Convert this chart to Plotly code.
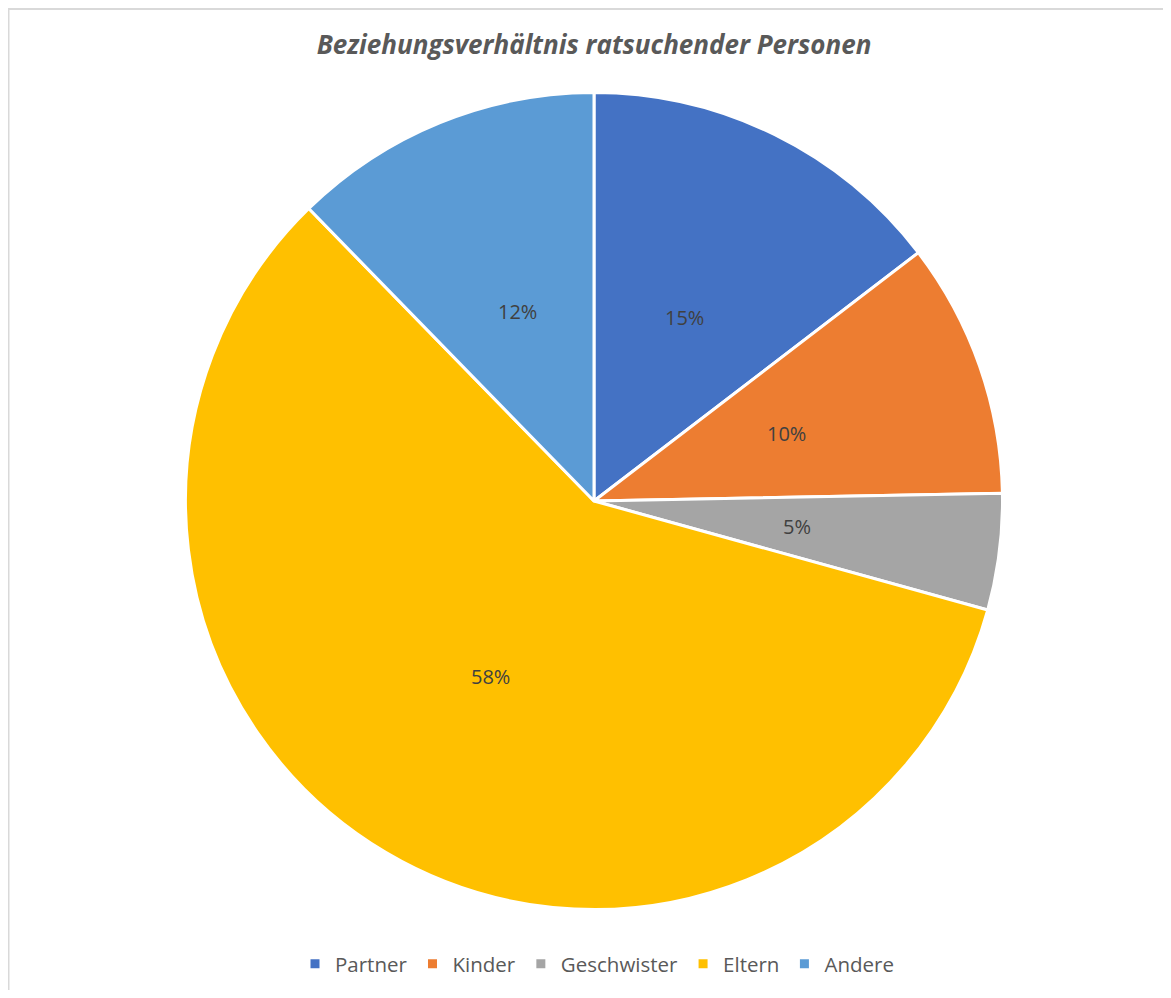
import math
import plotly.graph_objects as go

categories = ['Partner', 'Kinder', 'Geschwister', 'Eltern', 'Andere']
values = [146, 101, 46, 584, 123]
colors = ['#4472C4', '#ED7D31', '#A5A5A5', '#FFC000', '#5B9BD5']

# page body has an 8px margin, so the figure sits at (8, 8)
OFF = 8
W, H = 1171 - 2 * OFF, 998 - 2 * OFF

# pie centre / radius in screen pixels
CX, CY, R = 594 - OFF, 501 - OFF, 408.5

fig = go.Figure(go.Pie(
    labels=categories,
    values=values,
    sort=False,
    direction='clockwise',
    rotation=0,
    marker=dict(colors=colors, line=dict(color='white', width=3)),
    textinfo='none',
    domain=dict(x=[(CX - R) / W, (CX + R) / W], y=[1 - (CY + R) / H, 1 - (CY - R) / H]),
    hoverinfo='label+percent',
))

# percent labels at half radius, like Excel's centred data labels
total = sum(values)
cum = 0
annotations = []
for v in values:
    theta = 2 * math.pi * (cum + v / 2) / total
    cum += v
    annotations.append(dict(
        x=(CX + 0.5 * R * math.sin(theta)) / W,
        y=1 - (CY - 0.5 * R * math.cos(theta)) / H,
        xref='paper', yref='paper',
        xanchor='center', yanchor='middle',
        text=f'{round(100 * v / total)}%',
        showarrow=False,
        font=dict(family='Open Sans', size=20, color='#404040'),
    ))

fig.update_layout(
    width=W,
    height=H,
    margin=dict(l=0, r=0, t=0, b=0),
    paper_bgcolor='white',
    plot_bgcolor='white',
    title=dict(
        text='<i>Beziehungsverhältnis ratsuchender Personen</i>',
        x=(594 - OFF) / W,
        xanchor='center',
        y=1 - (45 - OFF) / H,
        yanchor='middle',
        font=dict(family='Open Sans', size=26, color='#595959', weight=700),
    ),
    legend=dict(
        orientation='h',
        x=(597 - OFF) / W,
        xanchor='center',
        y=1 - (964 - OFF) / H,
        yanchor='middle',
        font=dict(family='Open Sans', size=20.5, color='#595959'),
        itemwidth=30,
    ),
    annotations=annotations,
    shapes=[dict(
        type='rect', xref='paper', yref='paper',
        x0=0.5 / W, x1=1.05, y0=-0.05, y1=1 - 1 / H,
        line=dict(color='#D9D9D9', width=2),
        fillcolor='rgba(0,0,0,0)',
        layer='below',
    )],
)

fig.write_html('out.html')
